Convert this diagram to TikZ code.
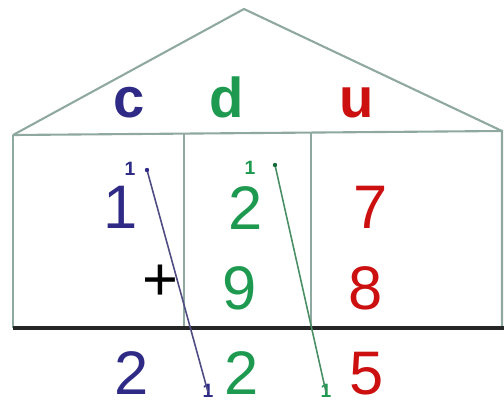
\documentclass[tikz,border=0pt]{standalone}
\usepackage{fontspec}
\setmainfont{Liberation Sans}
\usepackage{tikz}

\definecolor{cent}{HTML}{2E2A85}
\definecolor{dec}{HTML}{1E9A50}
\definecolor{uni}{HTML}{CC1010}
\definecolor{wallc}{HTML}{8FA8A0}

\tikzset{
  wall/.style={line width=1.2pt, draw=wallc},
  head/.style={inner sep=0pt, anchor=base, font=\fontsize{32}{36}\selectfont\bfseries},
  digit/.style={inner sep=0pt, anchor=base, font=\fontsize{35}{40}\selectfont},
  carry/.style={inner sep=0pt, anchor=base, font=\fontsize{11}{13}\selectfont\bfseries},
}

\begin{document}
\begin{tikzpicture}[x=0.02cm, y=-0.02cm]

    % 枠
    \useasboundingbox (0,0) rectangle (504,406);

    % 点の定義
    \coordinate (apex) at (244,9);
    \coordinate (roofL) at (13,135);
    \coordinate (roofR) at (502,131);
    \coordinate (baseL) at (13,328);
    \coordinate (baseR) at (504,328);
    \coordinate (colA) at (184,133);
    \coordinate (colB) at (311,132);

    % 家の描画
    \draw [wall] (roofL) -- (apex) -- (roofR);
    \draw [wall] (roofL) -- (roofR) -- (502,328);
    \draw [wall] (roofL) -- (baseL);
    \draw [wall] (colA) -- (colA |- baseL);
    \draw [wall] (colB) -- (colB |- baseL);
    \draw [line width=2pt, black!85] (baseL) -- (baseR);

    % 見出し
    \node[head, text=cent] (hc) at (129,117) {c};
    \node[head, text=dec] (hd) at (227,117) {d};
    \node[head, text=uni] (hu) at (357,117) {u};

    % 一段目
    \node[digit, text=cent] (a1) at (121,228) {1};
    \node[digit, text=dec] (a2) at (246,229) {2};
    \node[digit, text=uni] (a3) at (371,228) {7};

    % 二段目
    \node[digit, text=black] (plus) at (160,300) {+};
    \node[digit, text=dec] (b2) at (240,309) {9};
    \node[digit, text=uni] (b3) at (366,309) {8};

    % 答え
    \node[digit, text=cent] (s1) at (132,394) {2};
    \node[digit, text=dec] (s2) at (242,394) {2};
    \node[digit, text=uni] (s3) at (367,394) {5};

    % 繰り上がり
    \node[carry, text=cent] (kc) at (130,175) {1};
    \node[carry, text=dec] (kd) at (250,174) {1};
    \node[carry, text=cent] (rc) at (208,397) {1};
    \node[carry, text=dec] (rd) at (326,397) {1};

    \coordinate (dotC) at (147,170);
    \coordinate (dotD) at (275,165);
    \draw [line width=0.9pt, cent!60!gray] (dotC) -- ([yshift=-5]rc.north);
    \draw [line width=0.9pt, dec!55!gray] (dotD) -- ([yshift=-5]rd.north);
    \fill [cent] (dotC) circle (2.2);
    \fill [dec!70!black] (dotD) circle (2.2);

\end{tikzpicture}
\end{document}
